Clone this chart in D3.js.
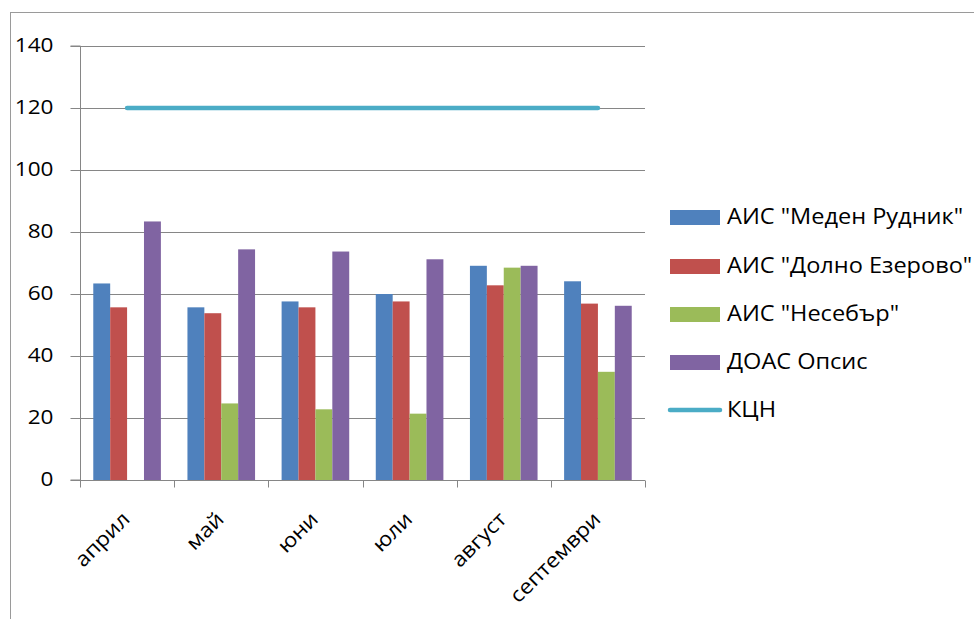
<!DOCTYPE html>
<html><head><meta charset="utf-8">
<script src="https://cdn.jsdelivr.net/npm/d3@7"></script>
<style>body{margin:0;background:#fff}svg{display:block}</style>
</head><body>
<svg id="c" width="974" height="619"></svg>
<script>
const months = ["април","май","юни","юли","август","септември"];
const seriesNames = ['АИС "Меден Рудник"','АИС "Долно Езерово"','АИС "Несебър"','ДОАС Опсис'];
const medenRudnik = [63.4, 55.7, 57.6, 60.0, 69.1, 64.1];
const dolnoEzerovo = [55.7, 53.8, 55.7, 57.6, 62.8, 56.9];
const nesebar = [null, 24.7, 22.8, 21.4, 68.5, 34.9];
const doasOpsis = [83.4, 74.4, 73.7, 71.2, 69.1, 56.2];
const kcnName = "КЦН";
const kcn = [120, 120, 120, 120, 120, 120];
const yTicks = [0,20,40,60,80,100,120,140];
const colors = ["#4f81bd","#c0504d","#9bbb59","#8064a2"];
const kcnColor = "#4bacc6";
const series = [medenRudnik, dolnoEzerovo, nesebar, doasOpsis];

const svg = d3.select("#c");
const font = "'Open Sans', sans-serif";
const FS = 20.5, FSL = 21.4, SX = 1.1;
const L = 80, R = 645, T = 46, B = 480;
const x0 = d3.scaleBand().domain(months).range([L, R]).paddingInner(0.282).paddingOuter(0.141);
const x1 = d3.scaleBand().domain(d3.range(4)).range([0, x0.bandwidth()]);
const y = d3.scaleLinear().domain([0,140]).range([B, T]);
const grey = "#868686";

// outer border
svg.append("rect").attr("x",10.5).attr("y",12.5).attr("width",1000).attr("height",700)
  .attr("fill","none").attr("stroke","#9a9a9a");

// gridlines
svg.append("g").selectAll("line").data(yTicks.filter(d=>d>0)).join("line")
  .attr("x1",L).attr("x2",R).attr("y1",d=>Math.round(y(d))+0.5).attr("y2",d=>Math.round(y(d))+0.5)
  .attr("stroke",grey).attr("stroke-width",1);

// y axis
const ya = svg.append("g").attr("transform",`translate(${L+0.5},0)`)
  .call(d3.axisLeft(y).tickValues(yTicks).tickSize(10).tickFormat(d3.format("d")));
ya.select(".domain").attr("stroke",grey).attr("d",`M-10,${y(0)}H0V${y(140)}H-10`);
ya.selectAll(".tick line").attr("stroke",grey);
ya.selectAll(".tick text").remove();
ya.selectAll(".tick").append("g").attr("transform",`translate(-27,0) scale(${SX},1)`)
  .append("text").attr("text-anchor","end").attr("dy","0.27em")
  .attr("font-family",font).attr("font-size",FS).attr("fill","#000").text(d=>d);

// bars
const g = svg.append("g");
series.forEach((s,i)=>{
  g.selectAll(null).data(months.map((m,j)=>({m,v:s[j]})).filter(d=>d.v!=null)).join("rect")
    .attr("x",d=>x0(d.m)+x1(i)).attr("width",x1.bandwidth())
    .attr("y",d=>y(d.v)).attr("height",d=>y(0)-y(d.v))
    .attr("fill",colors[i]);
});

// x axis
const xa = svg.append("g").attr("transform",`translate(0,${B+0.5})`);
xa.append("line").attr("x1",L).attr("x2",R).attr("stroke",grey);
const edges = months.map(m=>x0(m)-x0.step()*0.141).concat([R]);
xa.selectAll("line.t").data(edges).join("line").attr("class","t")
  .attr("x1",d=>Math.round(d)+0.5).attr("x2",d=>Math.round(d)+0.5).attr("y1",0).attr("y2",7).attr("stroke",grey);
xa.selectAll("g.lab").data(months).join("g").attr("class","lab")
  .attr("transform",d=>`translate(${x0(d)+x0.bandwidth()/2+4},${40}) rotate(-45) scale(${SX},1)`)
  .append("text").attr("text-anchor","end")
  .attr("font-family",font).attr("font-size",FS).attr("fill","#000").text(d=>d);

// KCN line
const line = d3.line().x((d,i)=>x0(months[i])+x0.bandwidth()/2).y(d=>y(d));
svg.append("path").datum(kcn).attr("d",line).attr("fill","none")
  .attr("stroke",kcnColor).attr("stroke-width",4.5).attr("stroke-linecap","round");

// legend
const lg = svg.append("g");
const rowY = [217, 266, 314, 362, 410];
const legendLabel = (txt, yy) => lg.append("g").attr("transform",`translate(727,${yy}) scale(${SX},1)`)
  .append("text").attr("dy","0.35em").attr("font-family",font).attr("font-size",FSL).attr("fill","#000").text(txt);
seriesNames.forEach((n,i)=>{
  lg.append("rect").attr("x",670).attr("y",rowY[i]-7).attr("width",50).attr("height",15).attr("fill",colors[i]);
  legendLabel(n, rowY[i]);
});
lg.append("line").attr("x1",670).attr("x2",720).attr("y1",rowY[4]).attr("y2",rowY[4])
  .attr("stroke",kcnColor).attr("stroke-width",4.5).attr("stroke-linecap","round");
legendLabel(kcnName, rowY[4]);
</script>
</body></html>
